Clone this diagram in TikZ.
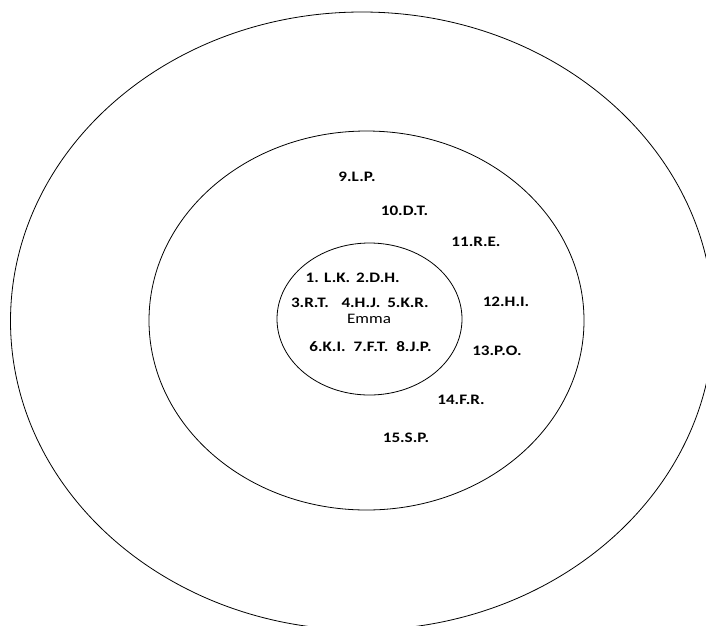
\documentclass[tikz,border=0pt]{standalone}
\usepackage{fontspec}
\setmainfont[FakeStretch=1.18]{Carlito}
\usepackage{tikz}

\begin{document}
\begin{tikzpicture}[x=1pt,y=-1pt,
    ring/.style={line width=0.8pt},
    member/.style={font=\fontsize{14.5}{16}\selectfont\bfseries, inner sep=0pt}]
    \useasboundingbox (0,0) rectangle (706,625);
    \clip (0,0) rectangle (706,625);
    % Rings
    \draw[ring] (362,321) ellipse (351.5pt and 309pt);
    \draw[ring] (366.5,320.5) ellipse (217.5pt and 189.5pt);
    \draw[ring] (369.5,319) ellipse (92.5pt and 76pt);
    % Centre
    \node[inner sep=0pt, font=\fontsize{14.5}{16}\selectfont] (emma) at (369,319) {Emma};
    \node[member] (n1) at (328,278) {1. L.K.};
    \node[member] (n2) at (378,278) {2.D.H.};
    \node[member] (n3) at (310,303) {3.R.T.};
    \node[member] (n4) at (361,303) {4.H.J.};
    \node[member] (n5) at (408,303) {5.K.R.};
    \node[member] (n6) at (327.5,347) {6.K.I.};
    \node[member] (n7) at (371,347) {7.F.T.};
    \node[member] (n8) at (414,347) {8.J.P.};
    % Second ring
    \node[member] (n9) at (357,177) {9.L.P.};
    \node[member] (n10) at (404.5,211) {10.D.T.};
    \node[member] (n11) at (476,242) {11.R.E.};
    \node[member] (n12) at (506,302) {12.H.I.};
    \node[member] (n13) at (497,351) {13.P.O.};
    \node[member] (n14) at (461,400) {14.F.R.};
    \node[member] (n15) at (406,438) {15.S.P.};
\end{tikzpicture}
\end{document}
